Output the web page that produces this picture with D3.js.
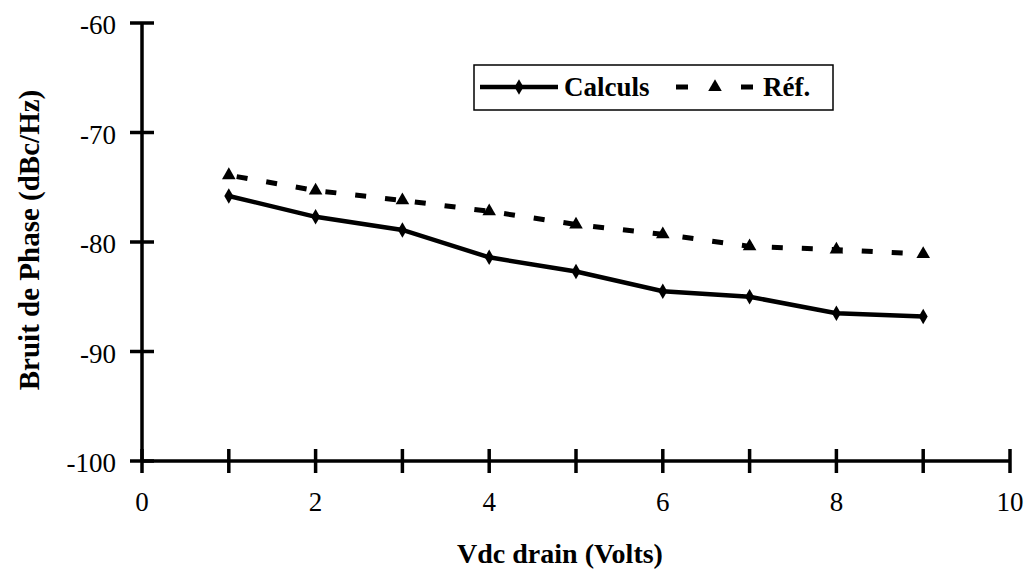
<!DOCTYPE html>
<html><head><meta charset="utf-8">
<script src="https://cdn.jsdelivr.net/npm/d3@7"></script>
<style>body{margin:0;background:#fff}svg{display:block}</style>
</head><body><svg id="c" width="1035" height="570"></svg>
<script>
const xValues = [1,2,3,4,5,6,7,8,9];
const calculs = [-75.8,-77.7,-78.9,-81.4,-82.7,-84.5,-85.0,-86.5,-86.8];
const reference = [-73.9,-75.3,-76.2,-77.2,-78.4,-79.3,-80.4,-80.7,-81.1];
const xTicks = [0,2,4,6,8,10];
const yTicks = [-100,-90,-80,-70,-60];
const seriesNames = ["Calculs","Réf."];

const FF = "'Liberation Serif', 'DejaVu Serif', 'Times New Roman', Times, serif";
const svg = d3.select("#c");
const x = d3.scaleLinear().domain([0,10]).range([142,1010]);
const y = d3.scaleLinear().domain([-100,-60]).range([461,23]);

svg.append("line").attr("x1",x(0)).attr("x2",x(10)).attr("y1",y(-100)).attr("y2",y(-100)).attr("stroke","#000").attr("stroke-width",3.5);
svg.append("line").attr("x1",x(0)).attr("x2",x(0)).attr("y1",y(-100)).attr("y2",y(-60)).attr("stroke","#000").attr("stroke-width",3.5);
d3.range(0,11).forEach(v=>{
  svg.append("line").attr("x1",x(v)).attr("x2",x(v)).attr("y1",y(-100)-12).attr("y2",y(-100)+12).attr("stroke","#000").attr("stroke-width",3.5);
});
yTicks.forEach(v=>{
  svg.append("line").attr("x1",x(0)-12).attr("x2",x(0)+12).attr("y1",y(v)).attr("y2",y(v)).attr("stroke","#000").attr("stroke-width",3.5);
});
const T = (sel)=>sel.style("font-family",FF);
xTicks.forEach(v=>{
  T(svg.append("text")).attr("x",x(v)).attr("y",511).attr("text-anchor","middle").attr("font-size",27).text(v);
});
yTicks.forEach(v=>{
  T(svg.append("text")).attr("x",116).attr("y",y(v)+11).attr("text-anchor","end").attr("font-size",27).text(v);
});
T(svg.append("text")).attr("x",560).attr("y",563).attr("text-anchor","middle").attr("font-size",28).attr("font-weight","bold").text("Vdc drain (Volts)");
T(svg.append("text")).attr("transform","translate(39,240) rotate(-90)").attr("text-anchor","middle").attr("font-size",29).attr("font-weight","bold").text("Bruit de Phase (dBc/Hz)");

const line = d3.line().x((d,i)=>x(xValues[i])).y(d=>y(d));
svg.append("path").attr("d",line(reference)).attr("fill","none").attr("stroke","#000").attr("stroke-width",5).attr("stroke-dasharray","11,19").attr("stroke-dashoffset",-8);
svg.append("path").attr("d",line(calculs)).attr("fill","none").attr("stroke","#000").attr("stroke-width",4.5);
const diamond = d3.symbol().type(d3.symbolDiamond).size(70);
const tri = d3.symbol().type(d3.symbolTriangle).size(80);
calculs.forEach((v,i)=>svg.append("path").attr("d",diamond()).attr("transform",`translate(${x(xValues[i])},${y(v)})`));
reference.forEach((v,i)=>svg.append("path").attr("d",tri()).attr("transform",`translate(${x(xValues[i])},${y(v)})`));

svg.append("rect").attr("x",474).attr("y",65).attr("width",359).attr("height",45).attr("fill","#fff").attr("stroke","#000").attr("stroke-width",1.5);
svg.append("line").attr("x1",480).attr("x2",558).attr("y1",87).attr("y2",87).attr("stroke","#000").attr("stroke-width",4.5);
svg.append("path").attr("d",diamond()).attr("transform","translate(519,87)");
T(svg.append("text")).attr("x",564).attr("y",96).attr("font-size",27).attr("font-weight","bold").text(seriesNames[0]);
svg.append("line").attr("x1",676).attr("x2",688).attr("y1",87).attr("y2",87).attr("stroke","#000").attr("stroke-width",5);
svg.append("line").attr("x1",741).attr("x2",753).attr("y1",87).attr("y2",87).attr("stroke","#000").attr("stroke-width",5);
svg.append("path").attr("d",tri()).attr("transform","translate(715,87)");
T(svg.append("text")).attr("x",763).attr("y",96).attr("font-size",27).attr("font-weight","bold").text(seriesNames[1]);
</script></body></html>
